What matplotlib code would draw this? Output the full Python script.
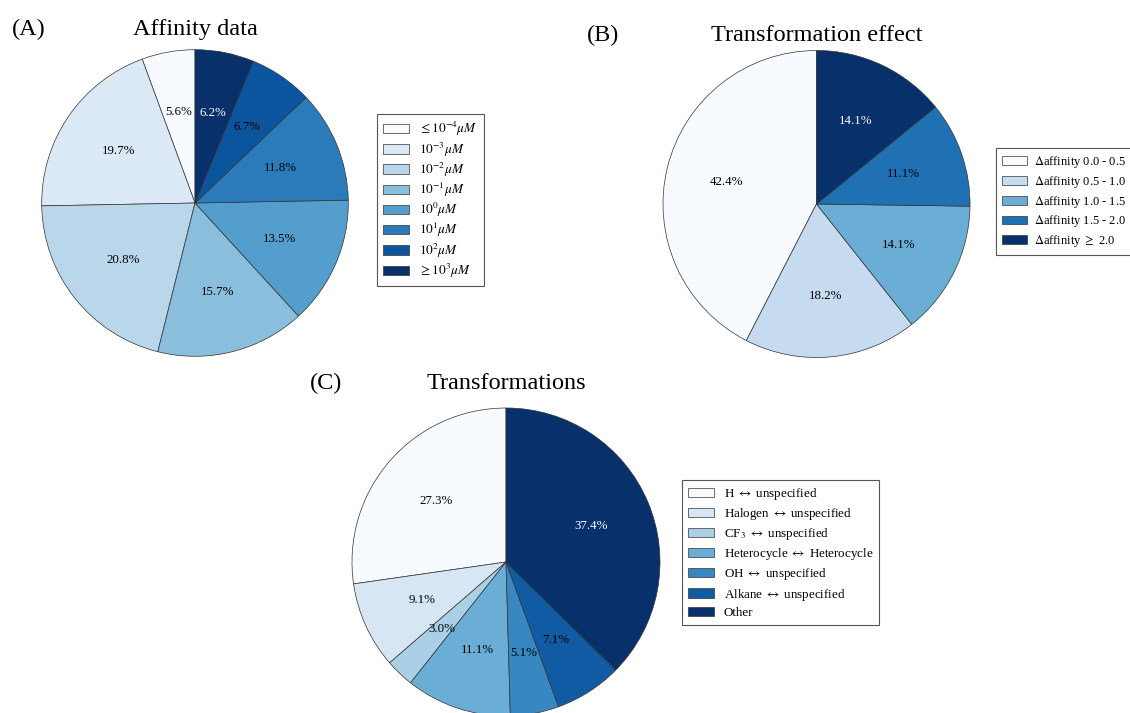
import numpy as np
import matplotlib
matplotlib.use("Agg")
import matplotlib.pyplot as plt

plt.rcParams['font.family'] = 'serif'
plt.rcParams['font.serif'] = ['Liberation Serif', 'DejaVu Serif']
plt.rcParams['mathtext.fontset'] = 'stix'

# ---------------- data ----------------
affinity_labels = [r'$\leq 10^{-4} \mu M$', r'$10^{-3} \mu M$', r'$10^{-2} \mu M$',
                   r'$10^{-1} \mu M$', r'$10^{0} \mu M$', r'$10^{1} \mu M$',
                   r'$10^{2} \mu M$', r'$\geq 10^{3} \mu M$']
affinity_pct = [5.6, 19.7, 20.8, 15.7, 13.5, 11.8, 6.7, 6.2]

effect_labels = [r'$\Delta$affinity 0.0 - 0.5', r'$\Delta$affinity 0.5 - 1.0',
                 r'$\Delta$affinity 1.0 - 1.5', r'$\Delta$affinity 1.5 - 2.0',
                 r'$\Delta$affinity $\geq$ 2.0']
effect_pct = [42.4, 18.2, 14.1, 11.1, 14.1]

transf_labels = [r'H $\leftrightarrow$ unspecified', r'Halogen $\leftrightarrow$ unspecified',
                 r'CF$_3$ $\leftrightarrow$ unspecified',
                 r'Heterocycle $\leftrightarrow$ Heterocycle',
                 r'OH $\leftrightarrow$ unspecified', r'Alkane $\leftrightarrow$ unspecified',
                 'Other']
transf_pct = [27.3, 9.1, 3.0, 11.1, 5.1, 7.1, 37.4]

titles = ['Affinity data', 'Transformation effect', 'Transformations']
panel_tags = ['(A)', '(B)', '(C)']

# ---------------- layout ----------------
W, H = 1130, 713
fig = plt.figure(figsize=(W / 100, H / 100), dpi=100)

LIM = 1.03

def pie_panel(values, labels, cx, cy, r, leg_x, leg_y, title, tag, title_y, tag_x,
              lsp, lfs, htp):
    hw = r * LIM
    ax = fig.add_axes([(cx - hw) / W, (H - cy - hw) / H, 2 * hw / W, 2 * hw / H])
    colors = plt.cm.Blues(np.linspace(0, 1, len(values)))
    wedges, texts, autotexts = ax.pie(
        values, colors=colors, startangle=90, autopct='%1.1f%%', pctdistance=0.6,
        wedgeprops=dict(edgecolor='#333333', linewidth=0.5),
        textprops=dict(fontsize=9.3))
    autotexts[-1].set_color('white')
    ax.set_xlim(-LIM, LIM)
    ax.set_ylim(-LIM, LIM)
    ax.set_aspect('equal')
    ax.axis('off')
    leg = fig.legend(wedges, labels, loc='center left',
                     bbox_to_anchor=(leg_x / W, 1 - leg_y / H),
                     fontsize=lfs, frameon=True, fancybox=False,
                     edgecolor='#555555', framealpha=1,
                     handlelength=2.0, handleheight=0.7, labelspacing=lsp,
                     borderpad=0.45, borderaxespad=0.0, handletextpad=htp)
    leg.get_frame().set_linewidth(0.8)
    fig.text(cx / W, 1 - title_y / H, title, ha='center', va='baseline', fontsize=17.5)
    fig.text(tag_x / W, 1 - title_y / H, tag, ha='left', va='baseline', fontsize=17.5)
    return ax

pie_panel(affinity_pct, affinity_labels, 195, 203, 153.3, 377, 200,
          titles[0], panel_tags[0], 35, 12, 0.16, 9.5, 0.75)
pie_panel(effect_pct, effect_labels, 816.5, 204, 153.5, 996, 201.5,
          titles[1], panel_tags[1], 41, 587, 0.3, 9.0, 0.6)
pie_panel(transf_pct, transf_labels, 506, 562, 154, 682, 552.5,
          titles[2], panel_tags[2], 389, 310, 0.31, 9.4, 0.75)

fig.savefig('out.png', dpi=100)
